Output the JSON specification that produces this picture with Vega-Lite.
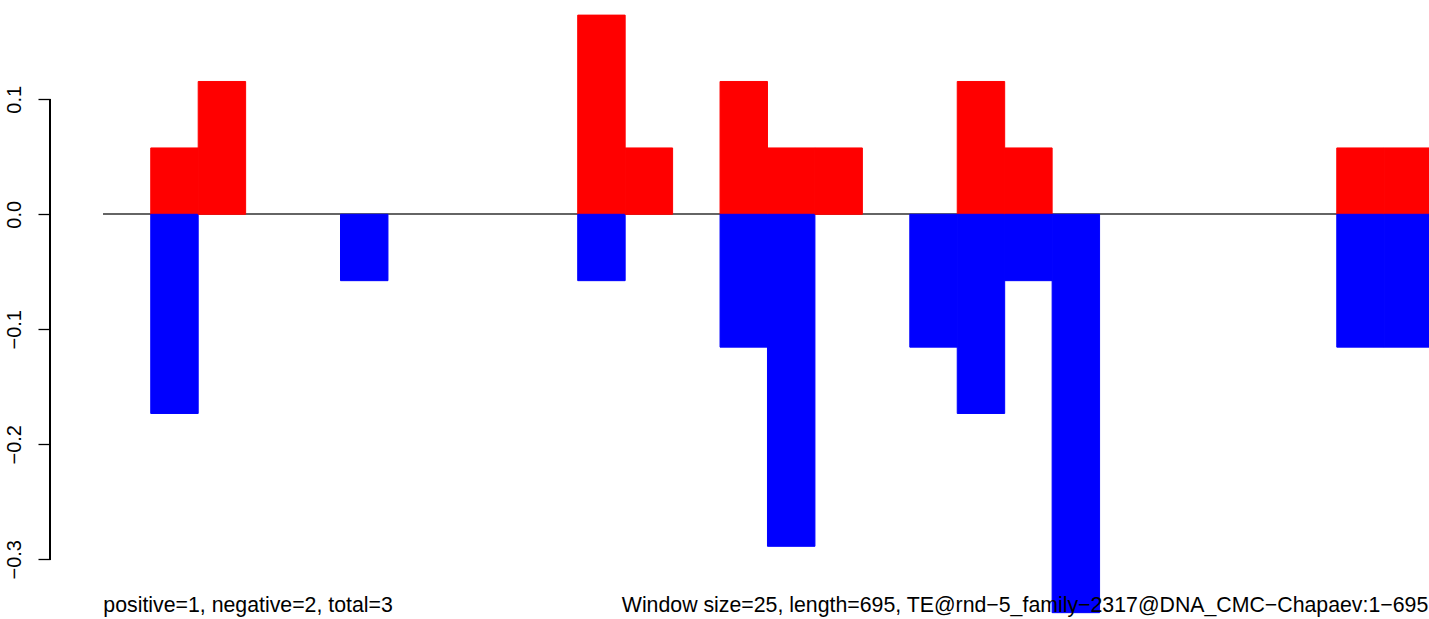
{
  "$schema": "https://vega.github.io/schema/vega-lite/v6.json",
  "width": 1429,
  "height": 619,
  "padding": 0,
  "autosize": "none",
  "background": "white",
  "config": {"view": {"stroke": null}, "font": "Liberation Sans"},
  "datasets": {
    "bars": [
      {"start": 25, "end": 50, "value": 0.0577, "strand": "positive"},
      {"start": 25, "end": 50, "value": -0.1732, "strand": "negative"},
      {"start": 50, "end": 75, "value": 0.1155, "strand": "positive"},
      {"start": 125, "end": 150, "value": -0.0577, "strand": "negative"},
      {"start": 250, "end": 275, "value": 0.1732, "strand": "positive"},
      {"start": 250, "end": 275, "value": -0.0577, "strand": "negative"},
      {"start": 275, "end": 300, "value": 0.0577, "strand": "positive"},
      {"start": 325, "end": 350, "value": 0.1155, "strand": "positive"},
      {"start": 325, "end": 350, "value": -0.1155, "strand": "negative"},
      {"start": 350, "end": 375, "value": 0.0577, "strand": "positive"},
      {"start": 350, "end": 375, "value": -0.2887, "strand": "negative"},
      {"start": 375, "end": 400, "value": 0.0577, "strand": "positive"},
      {"start": 425, "end": 450, "value": -0.1155, "strand": "negative"},
      {"start": 450, "end": 475, "value": 0.1155, "strand": "positive"},
      {"start": 450, "end": 475, "value": -0.1732, "strand": "negative"},
      {"start": 475, "end": 500, "value": 0.0577, "strand": "positive"},
      {"start": 475, "end": 500, "value": -0.0577, "strand": "negative"},
      {"start": 500, "end": 525, "value": -0.3464, "strand": "negative"},
      {"start": 650, "end": 675, "value": 0.0577, "strand": "positive"},
      {"start": 650, "end": 675, "value": -0.1155, "strand": "negative"},
      {"start": 675, "end": 700, "value": 0.0577, "strand": "positive"},
      {"start": 675, "end": 700, "value": -0.1155, "strand": "negative"}
    ],
    "notes": [
      {"label": "positive=1, negative=2, total=3", "side": "left"},
      {"label": "Window size=25, length=695, TE@rnd−5_family−2317@DNA_CMC−Chapaev:1−695", "side": "right"}
    ]
  },
  "data": {"name": "bars"},
  "layer": [
    {
      "mark": {"type": "rule", "stroke": "#666666", "strokeWidth": 1},
      "encoding": {
        "x": {"datum": 0, "type": "quantitative", "scale": {"domain": [-54.44, 698.6], "nice": false, "zero": false}, "axis": null},
        "x2": {"datum": 700},
        "y": {"datum": 0, "type": "quantitative"}
      }
    },
    {
      "mark": {"type": "rect", "strokeWidth": 1},
      "encoding": {
        "x": {"field": "start", "type": "quantitative"},
        "x2": {"field": "end"},
        "y": {
          "field": "value",
          "type": "quantitative",
          "scale": {"domain": [-0.35191, 0.18635], "nice": false, "zero": false},
          "axis": {
            "values": [-0.3, -0.2, -0.1, 0, 0.1],
            "offset": -50,
            "domain": false,
            "grid": false,
            "title": null,
            "tickSize": 12,
            "tickWidth": 1.3,
            "tickColor": "black",
            "labelAngle": -90,
            "labelAlign": "center",
            "labelBaseline": "alphabetic",
            "labelPadding": 18,
            "labelFont": "Liberation Sans",
            "labelFontSize": 20,
            "labelColor": "black",
            "labelFlush": false,
            "labelOverlap": false,
            "labelExpr": "replace(format(datum.value, '.1f'), '-', '\u2212')"
          }
        },
        "y2": {"datum": 0},
        "color": {
          "field": "strand",
          "type": "nominal",
          "scale": {"domain": ["positive", "negative"], "range": ["#ff0000", "#0000ff"]},
          "legend": null
        },
        "stroke": {
          "field": "strand",
          "type": "nominal",
          "scale": {"domain": ["positive", "negative"], "range": ["#ff0000", "#0000ff"]},
          "legend": null
        }
      }
    },
    {
      "mark": {"type": "rule", "stroke": "black", "strokeWidth": 1.3},
      "encoding": {
        "x": {"datum": -28.09, "type": "quantitative"},
        "y": {"datum": -0.3, "type": "quantitative"},
        "y2": {"datum": 0.1}
      }
    },
    {
      "data": {"name": "notes"},
      "transform": [{"filter": "datum.side === 'left'"}],
      "mark": {"type": "text", "align": "left", "baseline": "alphabetic", "font": "Liberation Sans", "fontSize": 21.3, "color": "black"},
      "encoding": {
        "x": {"datum": 0, "type": "quantitative"},
        "y": {"datum": -0.3458, "type": "quantitative"},
        "text": {"field": "label"}
      }
    },
    {
      "data": {"name": "notes"},
      "transform": [{"filter": "datum.side === 'right'"}],
      "mark": {"type": "text", "align": "right", "baseline": "alphabetic", "font": "Liberation Sans", "fontSize": 21.3, "color": "black"},
      "encoding": {
        "x": {"datum": 698.2, "type": "quantitative"},
        "y": {"datum": -0.3458, "type": "quantitative"},
        "text": {"field": "label"}
      }
    }
  ]
}
